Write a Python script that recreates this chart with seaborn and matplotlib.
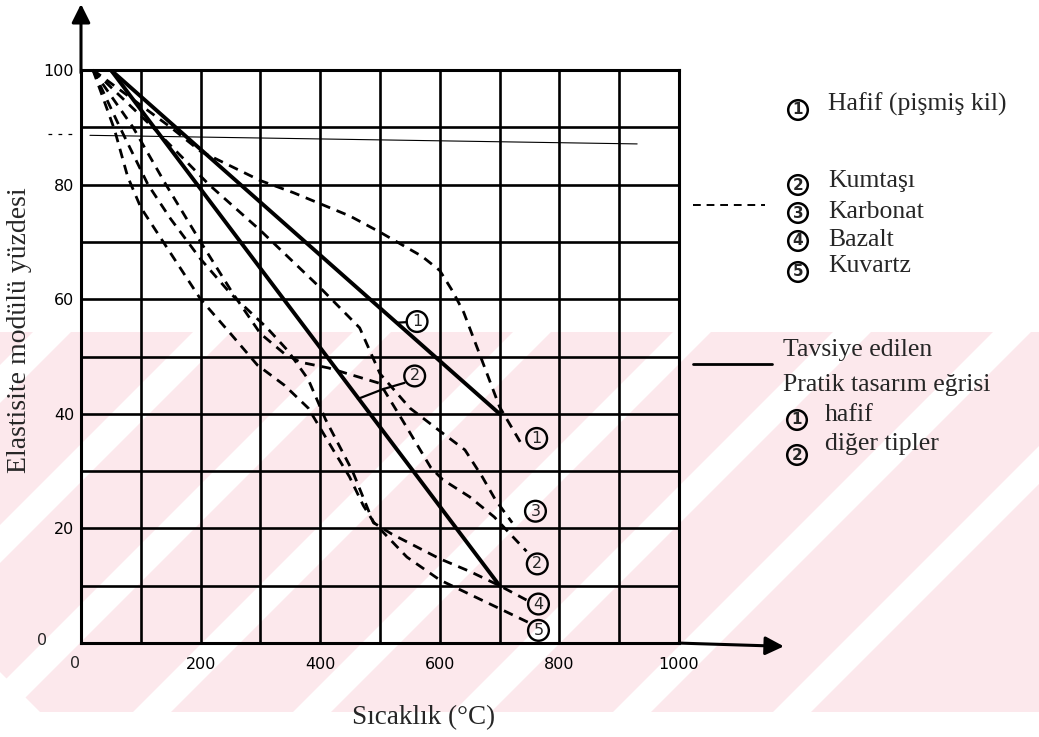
import matplotlib
matplotlib.use("Agg")
import matplotlib.pyplot as plt
import seaborn as sns
import pandas as pd
from matplotlib.patches import Polygon

sns.set_theme(style="white")
plt.rcParams['font.family'] = ['DejaVu Sans']

# ---------------- data ----------------
x_ticks = [0, 200, 400, 600, 800, 1000]
y_ticks = [20, 40, 60, 80, 100]

# recommended practical design curves (solid)
design1_x = [0, 50, 700]      # (1) hafif
design1_y = [100, 100, 40]
design2_x = [0, 50, 700]      # (2) diğer tipler
design2_y = [100, 100, 10]

# measured curves (dashed)
hafif_x = [20, 150, 200, 300, 355, 450, 500, 570, 600, 622, 640, 667, 700, 735]
hafif_y = [100, 90, 85.8, 80.7, 78.6, 74.5, 71.7, 67.5, 65, 61.3, 57.7, 50.3, 41.2, 35]
kumtasi_x = [20, 87, 142, 200, 254, 300, 340, 367, 414, 500, 538, 585, 605, 650, 691, 745]
kumtasi_y = [100, 90, 80, 70, 61, 54, 50.5, 49, 48, 45.3, 38.8, 30.6, 28.5, 25.5, 22, 16]
karbonat_x = [20, 120, 214, 300, 400, 466, 483, 500, 550, 600, 642, 671, 693, 721]
karbonat_y = [100, 90, 80, 72, 62, 55, 51, 47, 41, 37, 33.7, 29, 25, 21]
bazalt_x = [20, 65, 112, 150, 200, 250, 311, 346, 380, 409, 454, 489, 520, 600, 650, 700, 745]
bazalt_y = [100, 90, 80, 74, 67, 61, 55, 51, 46, 39, 30, 21, 19, 14.7, 12.5, 10, 7.5]
kuvartz_x = [20, 56, 78, 100, 150, 200, 250, 295, 340, 380, 420, 449, 472, 490, 545, 600, 650, 700, 750]
kuvartz_y = [100, 89.6, 81.4, 76, 68, 60, 54, 48.5, 45, 41, 34, 29, 24, 21, 15, 11, 8.5, 6, 3.5]

# faint scan line
faint_x = [15, 930]
faint_y = [88.6, 87.1]

# curve-end labels (number, x, y)
end_labels = [("1", 762, 35.7), ("3", 760, 23), ("2", 763, 13.8), ("4", 765, 6.8), ("5", 765, 2.2)]
design_labels = [("1", 562, 56.1), ("2", 558, 46.6)]

legend_top = ["Hafif (pişmiş kil)", "Kumtaşı", "Karbonat", "Bazalt", "Kuvartz"]
legend_bottom = ["Tavsiye edilen", "Pratik tasarım eğrisi", "hafif", "diğer tipler"]

W, H = 1039, 737
fig = plt.figure(figsize=(W / 100, H / 100), dpi=100)
fig.patch.set_facecolor("white")

def fx(px):
    return px / W

def fy(py):
    return 1 - py / H

# ---------------- watermark (background decoration) ----------------
pink = "#fce8ec"
fig.patches.append(Polygon([(fx(0), fy(332)), (fx(W), fy(332)), (fx(W), fy(712)), (fx(0), fy(712))],
                           closed=True, transform=fig.transFigure, fc=pink, ec="none", zorder=-5))
for x0 in [-347, -187, -27, 133, 293, 453, 613, 773]:
    pts = [(x0, 712), (x0 + 38, 712), (x0 + 38 + 380, 332), (x0 + 380, 332)]
    fig.patches.append(Polygon([(fx(a), fy(b)) for a, b in pts], closed=True,
                               transform=fig.transFigure, fc="white", ec="none", zorder=-4))
fig.patches.append(Polygon([(fx(0), fy(712)), (fx(40), fy(712)), (fx(0), fy(672))], closed=True,
                           transform=fig.transFigure, fc="white", ec="none", zorder=-4))

# ---------------- axes ----------------
left, right, top, bottom = 81, 679, 70, 643
ax = fig.add_axes([fx(left), fy(bottom), (right - left) / W, (bottom - top) / H])
ax.patch.set_alpha(0)
ax.set_xlim(0, 1000)
ax.set_ylim(0, 100)
ax.set_xticks(range(0, 1001, 100))
ax.set_yticks(range(0, 101, 10))
ax.set_xticklabels([str(v) if v in x_ticks and v != 0 else "" for v in range(0, 1001, 100)])
ax.set_yticklabels([str(v) if v in y_ticks else "" for v in range(0, 101, 10)])
ax.tick_params(length=0, labelsize=11.5, colors="black")
ax.tick_params(axis="x", pad=10)
ax.tick_params(axis="y", pad=5)
ax.grid(True, color="black", lw=1.9)
for s in ax.spines.values():
    s.set_color("black")
    s.set_linewidth(2.2)

ax.text(-10, -3.5, "0", ha="center", va="center", fontsize=11.5)
ax.text(-65, 0.5, "0", ha="center", va="center", fontsize=11.5)

# arrows
ax.annotate("", xy=(0, 112), xytext=(0, 99), annotation_clip=False,
            arrowprops=dict(arrowstyle="-|>", lw=2.2, color="black", mutation_scale=28))
ax.annotate("", xy=(1180, -0.6), xytext=(995, 0), annotation_clip=False,
            arrowprops=dict(arrowstyle="-|>", lw=2.2, color="black", mutation_scale=28))

# faint line
ax.plot(faint_x, faint_y, color="black", lw=0.8, clip_on=False)
ax.plot([-55, -5], [88.8, 88.8], color="black", lw=0.9, ls=(0, (3, 5)), clip_on=False)

dash = (0, (3.5, 2.5))
for xs, ys in [(hafif_x, hafif_y), (kumtasi_x, kumtasi_y), (karbonat_x, karbonat_y),
               (bazalt_x, bazalt_y), (kuvartz_x, kuvartz_y)]:
    df = pd.DataFrame({"x": xs, "y": ys})
    sns.lineplot(data=df, x="x", y="y", ax=ax, sort=False, estimator=None,
                 color="black", lw=2.0, linestyle=dash, clip_on=False)

for xs, ys in [(design1_x, design1_y), (design2_x, design2_y)]:
    df = pd.DataFrame({"x": xs, "y": ys})
    sns.lineplot(data=df, x="x", y="y", ax=ax, sort=False, estimator=None,
                 color="black", lw=2.8)

ax.set_xlabel("")
ax.set_ylabel("")

circ = dict(boxstyle="circle,pad=0.18", fc="none", ec="black", lw=1.7)
for n, x, y in end_labels + design_labels:
    ax.text(x, y, n, ha="center", va="center", fontsize=11.5, bbox=circ, clip_on=False)

# leader lines
ax.plot([528, 545], [55.9, 56.0], color="black", lw=1.6)
ax.plot([463, 505, 541], [42.6, 44.3, 45.4], color="black", lw=1.6)

# axis titles
serif = ["Liberation Serif", "DejaVu Serif"]
fig.text(fx(424), fy(718), "Sıcaklık (°C)", ha="center", va="center", fontsize=19.5, family=serif)
fig.text(fx(20), fy(330), "Elastisite modülü yüzdesi", ha="center", va="center",
         rotation=90, fontsize=20, family=serif)

# legend texts
circ2 = dict(boxstyle="circle,pad=0.15", fc="none", ec="black", lw=1.8)
top_rows = [(110, 104), (185, 181), (213, 212), (241, 240), (272, 266)]
for i, (lab, (cy, ty)) in enumerate(zip(legend_top, top_rows)):
    fig.text(fx(798), fy(cy), str(i + 1), ha="center", va="center", fontsize=11, bbox=circ2,
             fontweight="bold")
    fig.text(fx(828), fy(ty), lab, ha="left", va="center", fontsize=18.5, family=serif)

fig.lines.append(plt.Line2D([fx(693), fx(765)], [fy(205), fy(205)], transform=fig.transFigure,
                            color="black", lw=1.4, ls=(0, (4, 3))))
fig.lines.append(plt.Line2D([fx(693), fx(772)], [fy(364), fy(364)], transform=fig.transFigure,
                            color="black", lw=2))

fig.text(fx(783), fy(350), legend_bottom[0], ha="left", va="center", fontsize=18.5, family=serif)
fig.text(fx(783), fy(385), legend_bottom[1], ha="left", va="center", fontsize=18.5, family=serif)
fig.text(fx(797), fy(420), "1", ha="center", va="center", fontsize=11, bbox=circ2, fontweight="bold")
fig.text(fx(825), fy(415), legend_bottom[2], ha="left", va="center", fontsize=18.5, family=serif)
fig.text(fx(797), fy(455), "2", ha="center", va="center", fontsize=11, bbox=circ2, fontweight="bold")
fig.text(fx(825), fy(444), legend_bottom[3], ha="left", va="center", fontsize=18.5, family=serif)

fig.savefig("out.png", dpi=100)
